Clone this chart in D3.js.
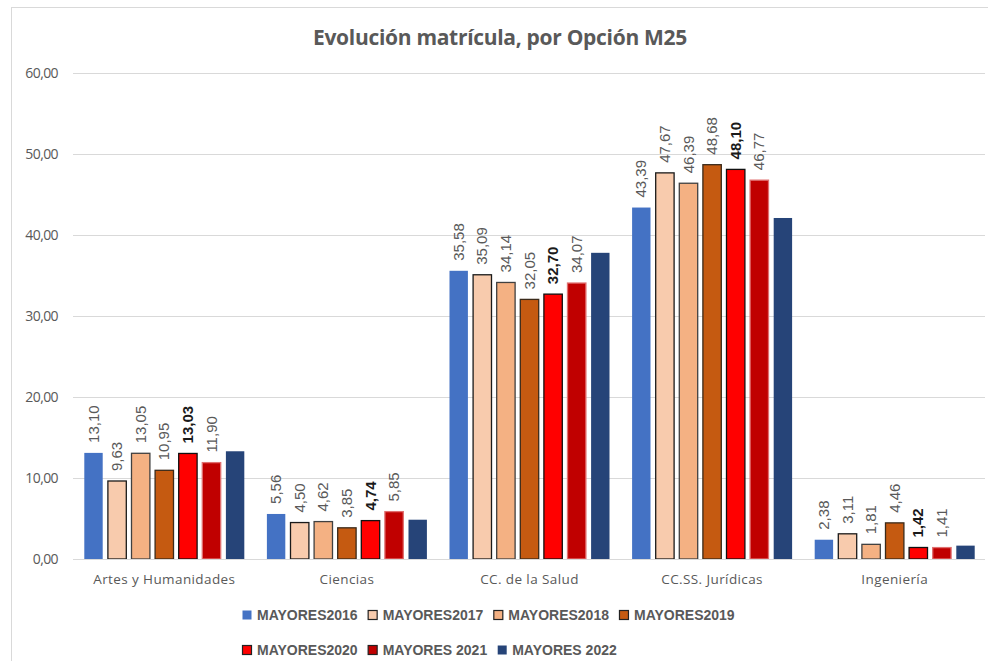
<!DOCTYPE html>
<html>
<head>
<meta charset="utf-8">
<script src="https://cdn.jsdelivr.net/npm/d3@7"></script>
<style>
  body { margin: 0; background: #fff; }
  svg { display: block; font-family: "Liberation Sans", Arial, sans-serif; }
</style>
</head>
<body>
<svg id="chart" width="988" height="661"></svg>
<script>
const title = "Evolución matrícula, por Opción M25";
const categories = ["Artes y Humanidades", "Ciencias", "CC. de la Salud", "CC.SS. Jurídicas", "Ingeniería"];
const seriesNames = ["MAYORES2016", "MAYORES2017", "MAYORES2018", "MAYORES2019", "MAYORES2020", "MAYORES 2021", "MAYORES 2022"];
const values2016 = [13.10, 5.56, 35.58, 43.39, 2.38];
const values2017 = [9.63, 4.50, 35.09, 47.67, 3.11];
const values2018 = [13.05, 4.62, 34.14, 46.39, 1.81];
const values2019 = [10.95, 3.85, 32.05, 48.68, 4.46];
const values2020 = [13.03, 4.74, 32.70, 48.10, 1.42];
const values2021 = [11.90, 5.85, 34.07, 46.77, 1.41];
const values2022 = [13.30, 4.85, 37.80, 42.10, 1.65];
const yTicks = [0, 10, 20, 30, 40, 50, 60];
const showLabel = [true, true, true, true, true, true, false];
const boldLabel = [false, false, false, false, true, false, false];
const fills = ["#4472C4", "#F8CBAD", "#F4B183", "#C55A11", "#FF0000", "#C00000", "#264478"];
const strokes = ["none", "#1a1a1a", "#404040", "#3a2a1a", "#111111", "#e07070", "none"];

const allValues = [values2016, values2017, values2018, values2019, values2020, values2021, values2022];

const svg = d3.select("#chart");
const W = 988, H = 661;

// frame
svg.append("rect").attr("x", 11.5).attr("y", 7.5).attr("width", W - 10).attr("height", H)
  .attr("fill", "#fff").attr("stroke", "#d9d9d9").attr("stroke-width", 1);

const plot = { left: 73, right: 986, top: 73, bottom: 559 };

const y = d3.scaleLinear().domain([0, 60]).range([plot.bottom, plot.top]);
const x0 = d3.scaleBand().domain(categories).range([plot.left, plot.right]).padding(0);
const inset = (x0.bandwidth() - 165.2) / 2;
const x1 = d3.scaleBand().domain(seriesNames).range([inset, x0.bandwidth() - inset]).paddingInner(0.22).paddingOuter(0.11);

const fmt = v => d3.format(".2f")(v).replace(".", ",");

// gridlines
svg.append("g").selectAll("line").data(yTicks.filter(t => t > 0)).join("line")
  .attr("x1", plot.left).attr("x2", plot.right - 1)
  .attr("y1", d => Math.round(y(d)) + 0.5).attr("y2", d => Math.round(y(d)) + 0.5)
  .attr("stroke", "#d9d9d9").attr("stroke-width", 1);

// y axis labels
const yAxis = d3.axisLeft(y).tickValues(yTicks).tickFormat(fmt).tickSize(0).tickPadding(0);
const yg = svg.append("g").attr("transform", `translate(${plot.left - 15},0)`).call(yAxis);
yg.select(".domain").remove();
yg.selectAll("text").attr("fill", "#595959").attr("font-size", 14).attr("font-family", "'Open Sans', 'Liberation Sans', sans-serif").attr("letter-spacing", "-0.6px");

// bars
const data = [];
categories.forEach((c, ci) => {
  seriesNames.forEach((s, si) => {
    data.push({ cat: c, ser: s, si, v: allValues[si][ci] });
  });
});

const bars = svg.append("g");
bars.selectAll("rect").data(data).join("rect")
  .attr("x", d => x0(d.cat) + x1(d.ser))
  .attr("y", d => y(d.v))
  .attr("width", x1.bandwidth())
  .attr("height", d => y(0) - y(d.v))
  .attr("fill", d => fills[d.si])
  .attr("stroke", d => strokes[d.si])
  .attr("stroke-width", d => strokes[d.si] === "none" ? 0 : 1.3);

// x axis line
svg.append("line").attr("x1", plot.left).attr("x2", plot.right - 1)
  .attr("y1", plot.bottom + 0.5).attr("y2", plot.bottom + 0.5)
  .attr("stroke", "#d9d9d9").attr("stroke-width", 1);

// value labels
svg.append("g").selectAll("text").data(data.filter(d => showLabel[d.si])).join("text")
  .attr("transform", d => `translate(${x0(d.cat) + x1(d.ser) + x1.bandwidth() / 2 + 5},${y(d.v) - 10}) rotate(-90)`)
  .attr("text-anchor", "start")
  .attr("font-size", 15)
  .attr("font-weight", d => boldLabel[d.si] ? "bold" : "normal")
  .attr("fill", d => boldLabel[d.si] ? "#1a1a1a" : "#595959")
  .text(d => fmt(d.v));

// category labels
const xAxis = d3.axisBottom(x0).tickSize(0).tickPadding(0);
const xg = svg.append("g").attr("transform", `translate(0,${plot.bottom + 15})`).call(xAxis);
xg.select(".domain").remove();
xg.selectAll("text").attr("fill", "#595959").attr("font-size", 13.5).attr("dy", "0.71em")
  .attr("font-family", "'Open Sans', 'Liberation Sans', sans-serif").attr("letter-spacing", "0.4px");

// title
svg.append("text").attr("x", 500).attr("y", 45).attr("text-anchor", "middle")
  .attr("font-size", 21).attr("font-weight", "bold").attr("fill", "#595959")
  .attr("font-family", "'Open Sans', 'Liberation Sans', sans-serif").attr("letter-spacing", "-0.3px")
  .text(title);

// legend
const legend = svg.append("g");
const perRow = [4, 3];
let idx = 0;
const rowY = [615, 650];
perRow.forEach((n, r) => {
  let cx = 242;
  for (let k = 0; k < n; k++, idx++) {
    const si = idx;
    legend.append("rect").attr("x", cx + 0.5).attr("y", rowY[r] - 4.5).attr("width", 9).attr("height", 9)
      .attr("fill", fills[si]).attr("stroke", strokes[si] === "none" ? "none" : "#222")
      .attr("stroke-width", strokes[si] === "none" ? 0 : 1.2);
    const t = legend.append("text").attr("x", cx + 15).attr("y", rowY[r]).attr("dy", "0.36em")
      .attr("font-size", 14).attr("font-weight", "bold").attr("fill", "#595959")
      .text(seriesNames[si]);
    const w = t.node().getComputedTextLength();
    cx = cx + 15 + w + 10;
  }
});
</script>
</body>
</html>
